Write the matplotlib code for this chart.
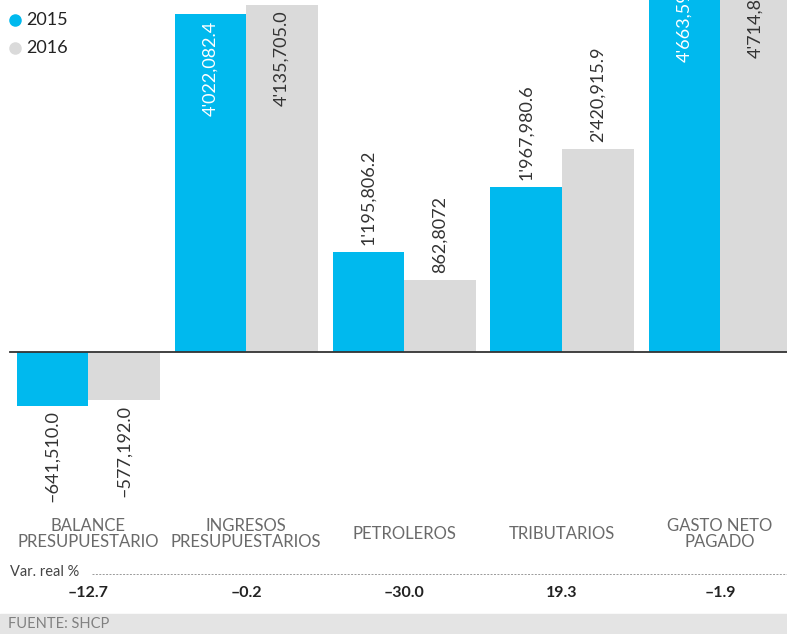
import matplotlib.pyplot as plt
import matplotlib.transforms as mtransforms
from matplotlib.patches import Rectangle

# Datos
categorias = ['BALANCE\nPRESUPUESTARIO', 'INGRESOS\nPRESUPUESTARIOS', 'PETROLEROS',
              'TRIBUTARIOS', 'GASTO NETO\nPAGADO']
valores_2015 = [-641510.0, 4022082.4, 1195806.2, 1967980.6, 4663592.0]
valores_2016 = [-577192.0, 4135705.0, 862807.2, 2420915.9, 4714800.0]
etiquetas_2015 = ['\u2013641,510.0', "4'022,082.4", "1'195,806.2", "1'967,980.6", "4'663,592.0"]
etiquetas_2016 = ['\u2013577,192.0', "4'135,705.0", '862,8072', "2'420,915.9", "4'714,800.0"]
var_real = ['\u201312.7', '\u20130.2', '\u201330.0', '19.3', '\u20131.9']

azul = '#00B9EE'
gris = '#DADADA'
texto = '#333333'

plt.rcParams['font.family'] = ['Lato', 'DejaVu Sans']

W, H = 787, 634
fig = plt.figure(figsize=(W / 100, H / 100), dpi=100)

# ejes: de y=0 a y=500 px, baseline en 352 px, 84 px por millon
ax = fig.add_axes([0, (H - 500) / H, 1, 500 / H])
paso = 158.0
ancho = 71.5 / paso
ax.set_xlim(-88 / paso, (W - 88) / paso)
ax.set_ylim(-(500 - 352) / 84e-6, 352 / 84e-6)
ax.axis('off')

x = list(range(len(categorias)))
x15 = [i - ancho / 2 for i in x]
x16 = [i + ancho / 2 for i in x]
ax.bar(x15, valores_2015, width=ancho, color=azul)
ax.bar(x16, valores_2016, width=ancho, color=gris)

# linea base
ax.plot([-78 / paso, (W - 88) / paso], [0, 0], color='#333333', lw=1.3)

# etiquetas de valor
def etiquetar(xs, vals, labs, color_dentro):
    for xi, v, lab in zip(xs, vals, labs):
        if v > 3.5e6:
            ax.annotate(lab, (xi, v), xytext=(0, -4.5), textcoords='offset points',
                        rotation=90, ha='center', va='top', fontsize=13,
                        color=color_dentro, annotation_clip=False)
        elif v >= 0:
            ax.annotate(lab, (xi, v), xytext=(0, 4.5), textcoords='offset points',
                        rotation=90, ha='center', va='bottom', fontsize=13, color=texto)
        else:
            ax.annotate(lab, (xi, v), xytext=(0, -3), textcoords='offset points',
                        rotation=90, ha='center', va='top', fontsize=13, color=texto)

etiquetar(x15, valores_2015, etiquetas_2015, 'white')
etiquetar(x16, valores_2016, etiquetas_2016, texto)

# categorias y variacion real
trans = mtransforms.blended_transform_factory(ax.transData, fig.transFigure)
for xi, cat, var in zip(x, categorias, var_real):
    ax.text(xi, 1 - 534 / H, cat, transform=trans, ha='center', va='center',
            fontsize=12, color='#6A6A6A', linespacing=1.05,
            multialignment='center', clip_on=False)
    ax.text(xi, 1 - 593 / H, var, transform=trans, ha='center', va='center',
            fontsize=11.5, fontweight='bold', color='#222222', clip_on=False)

fig.text(10 / W, 1 - 572 / H, 'Var. real %', ha='left', va='center',
         fontsize=10.5, color='#444444')
fig.add_artist(plt.Line2D([92 / W, 1], [1 - 574 / H, 1 - 574 / H],
                          transform=fig.transFigure, color='#999999', lw=0.7,
                          linestyle=(0, (2, 1.5))))

# leyenda
for yy, col, lab in [(20, azul, '2015'), (48, gris, '2016')]:
    fig.add_artist(plt.Line2D([15 / W], [1 - yy / H], transform=fig.transFigure,
                              marker='o', markersize=8, color=col, linestyle='none'))
    fig.text(26 / W, 1 - yy / H, lab, ha='left', va='center', fontsize=13, color='#222222')

# pie
fig.add_artist(Rectangle((0, 0), 1, 20 / H, transform=fig.transFigure,
                         color='#E4E4E4', zorder=0))
fig.text(8 / W, 1 - 624 / H, 'FUENTE: SHCP', ha='left', va='center',
         fontsize=10.5, color='#808080')

fig.savefig('out.png', dpi=100)
